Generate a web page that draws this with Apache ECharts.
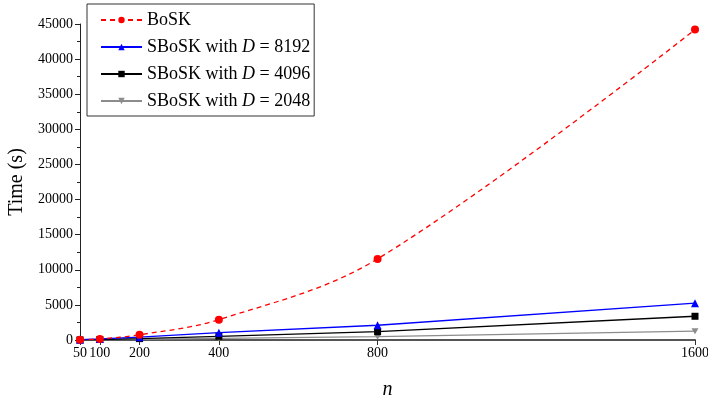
<!DOCTYPE html>
<html><head><meta charset="utf-8">
<script src="https://cdn.jsdelivr.net/npm/echarts@6/dist/echarts.min.js"></script>
<style>html,body{margin:0;padding:0;background:#fff}#c{width:708px;height:400px}</style>
</head><body><div id="c"></div>
<script>
const nValues = [50, 100, 200, 400, 800, 1600];
const bosk = [40, 150, 740, 2900, 11550, 44200];
const sbosk8192 = [50, 150, 400, 1050, 2100, 5250];
const sbosk4096 = [20, 70, 200, 530, 1180, 3380];
const sbosk2048 = [10, 40, 100, 230, 470, 1250];
const yTicks = [0, 45000, 5000];
const seriesNames = ['BoSK', 'SBoSK with D = 8192', 'SBoSK with D = 4096', 'SBoSK with D = 2048'];

const font = '"Liberation Serif", "DejaVu Serif", serif';
function pairs(ys){ return nValues.map((x,i)=>[x, ys[i]]); }
const chart = echarts.init(document.getElementById('c'), null, {renderer:'canvas'});
chart.setOption({
  animation: false,
  backgroundColor: '#fff',
  grid: {left: 80, right: 13, top: 24, bottom: 60, containLabel: false, outerBoundsMode: 'none'},
  legend: {
    left: 87, top: 4, orient: 'vertical',
    borderColor: '#333', borderWidth: 1, padding: [7, 4, 6, 13],
    itemGap: 9, itemWidth: 41, itemHeight: 8,
    data: seriesNames,
    textStyle: {fontFamily: font, fontSize: 18, color: '#000',
      rich: {a: {fontFamily: font, fontSize: 18, color: '#000'}, i: {fontFamily: font, fontSize: 18, fontStyle: 'italic', color: '#000'}}},
    formatter: function(name){
      const m = name.match(/^(.*)D( = \d+)$/);
      if (!m) return '{a|' + name + '}';
      return '{a|' + m[1] + '}{i|D}{a|' + m[2] + '}';
    }
  },
  xAxis: {
    type: 'value', min: nValues[0], max: nValues[nValues.length-1],
    name: 'n', nameLocation: 'middle', nameGap: 40,
    nameTextStyle: {fontFamily: font, fontSize: 20, fontStyle: 'italic', color: '#000'},
    axisLine: {lineStyle: {color: '#555', width: 2}},
    axisTick: {show: true, inside: false, length: 5, lineStyle: {color: '#333'}, customValues: nValues},
    axisLabel: {fontFamily: font, fontSize: 14, color: '#000', margin: 6, customValues: nValues,
      formatter: v => String(v)},
    splitLine: {show: false}
  },
  yAxis: {
    type: 'value', min: yTicks[0], max: yTicks[1], interval: yTicks[2],
    name: 'Time (s)', nameLocation: 'middle', nameGap: 50, nameRotate: 90,
    nameTextStyle: {fontFamily: font, fontSize: 20, color: '#000'},
    axisLine: {show: true, lineStyle: {color: '#222', width: 1}},
    axisTick: {show: true, length: 5, lineStyle: {color: '#222'}},
    minorTick: {show: true, splitNumber: 2, length: 3, lineStyle: {color: '#222'}},
    axisLabel: {fontFamily: font, fontSize: 14, color: '#000', margin: 7, formatter: v => String(v)},
    splitLine: {show: false}
  },
  series: [
    {name: seriesNames[0], type: 'line', data: pairs(bosk), smooth: 0.35,
     symbol: 'circle', symbolSize: 8, z: 5,
     lineStyle: {color: '#ff0000', width: 1.3, type: [5, 4]}, itemStyle: {color: '#ff0000'}},
    {name: seriesNames[1], type: 'line', data: pairs(sbosk8192),
     symbol: 'triangle', symbolSize: 8, z: 4,
     lineStyle: {color: '#0000ff', width: 1.3}, itemStyle: {color: '#0000ff'}},
    {name: seriesNames[2], type: 'line', data: pairs(sbosk4096),
     symbol: 'rect', symbolSize: 7, z: 3,
     lineStyle: {color: '#000000', width: 1.3}, itemStyle: {color: '#000000'}},
    {name: seriesNames[3], type: 'line', data: pairs(sbosk2048),
     symbol: 'path://M0,0 L10,0 L5,9 Z', symbolSize: [7, 6], z: 2,
     lineStyle: {color: '#8c8c8c', width: 1.3}, itemStyle: {color: '#8c8c8c'}}
  ]
});
</script></body></html>
